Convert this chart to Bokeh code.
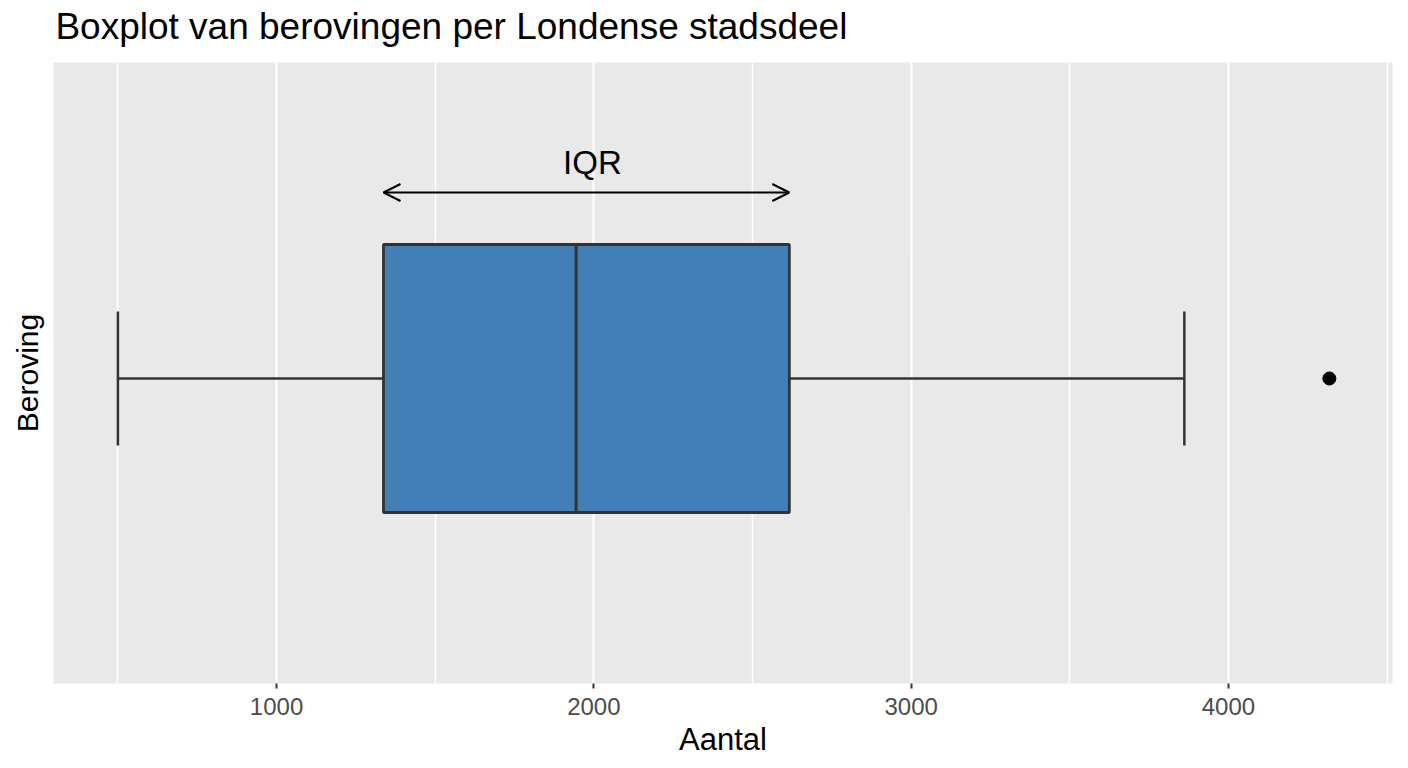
from bokeh.plotting import figure
from bokeh.embed import file_html
from bokeh.resources import INLINE
from bokeh.layouts import column
from bokeh.models import (Range1d, SingleIntervalTicker, FixedTicker, Arrow,
                          OpenHead, Label)

# ---- data ----
category = ["Beroving"]
whisker_low = [500]
q1 = [1337]
median = [1944]
q3 = [2616]
whisker_high = [3861]
outliers = [4318]

title_text = "Boxplot van berovingen per Londense stadsdeel"
x_label = "Aantal"
y_label = category[0]
iqr_label = "IQR"

FONT = "Liberation Sans"
LINE = "#333333"
W = 1400
TITLE_H = 62

# ---- title strip (pixel coordinates, frame aligned with the main chart) ----
t = figure(width=W, height=TITLE_H, output_backend="svg", toolbar_location=None,
           x_range=Range1d(0, W), y_range=Range1d(0, TITLE_H),
           x_axis_type=None, y_axis_type=None, min_border=0)
t.outline_line_color = None
t.background_fill_color = "white"
t.border_fill_color = "white"
t.grid.visible = False
t.add_layout(Label(x=2, y=36, text=title_text, text_align="left",
                   text_baseline="alphabetic", text_font=FONT,
                   text_font_size="37px", text_color="black"))

# ---- main chart ----
p = figure(width=W, height=704, output_backend="svg", toolbar_location=None,
           x_range=Range1d(297, 4517), y_range=Range1d(-1.138, 1.179),
           min_border_left=53, min_border_right=8, min_border_top=0,
           min_border_bottom=83)

p.background_fill_color = "#e9e9e9"
p.border_fill_color = "white"
p.outline_line_color = None

# x axis
p.xaxis.ticker = SingleIntervalTicker(interval=1000, num_minor_ticks=2)
p.xaxis.axis_line_color = None
p.xaxis.major_tick_line_color = LINE
p.xaxis.major_tick_line_width = 2
p.xaxis.major_tick_out = 5
p.xaxis.major_tick_in = 0
p.xaxis.minor_tick_line_color = None
p.xaxis.major_label_text_font = FONT
p.xaxis.major_label_text_font_size = "24px"
p.xaxis.major_label_text_color = "#4d4d4d"
p.xaxis.major_label_standoff = 9
p.xaxis.axis_label = x_label
p.xaxis.axis_label_text_font = FONT
p.xaxis.axis_label_text_font_size = "31px"
p.xaxis.axis_label_text_font_style = "normal"
p.xaxis.axis_label_text_color = "black"
p.xaxis.axis_label_standoff = 4

# y axis: only the label
p.yaxis.ticker = FixedTicker(ticks=[])
p.yaxis.axis_line_color = None
p.yaxis.major_tick_line_color = None
p.yaxis.minor_tick_line_color = None
p.yaxis.axis_label = y_label
p.yaxis.axis_label_text_font = FONT
p.yaxis.axis_label_text_font_size = "30px"
p.yaxis.axis_label_text_font_style = "normal"
p.yaxis.axis_label_text_color = "black"
p.yaxis.axis_label_standoff = 10

# grid
p.xgrid.grid_line_color = "white"
p.xgrid.grid_line_width = 2
p.xgrid.minor_grid_line_color = "white"
p.xgrid.minor_grid_line_width = 1.5
p.ygrid.grid_line_color = None

# whiskers
p.segment(x0=whisker_low, y0=[0], x1=q1, y1=[0], line_color=LINE, line_width=2.5)
p.segment(x0=q3, y0=[0], x1=whisker_high, y1=[0], line_color=LINE, line_width=2.5)
p.segment(x0=whisker_low, y0=[-0.25], x1=whisker_low, y1=[0.25], line_color=LINE, line_width=2.5)
p.segment(x0=whisker_high, y0=[-0.25], x1=whisker_high, y1=[0.25], line_color=LINE, line_width=2.5)

# box
p.quad(left=q1, right=q3, bottom=[-0.5], top=[0.5], fill_color="#417fb6",
       line_color=LINE, line_width=2.8)
p.segment(x0=median, y0=[-0.5], x1=median, y1=[0.5], line_color=LINE, line_width=3)

# outliers
p.scatter(x=outliers, y=[0] * len(outliers), size=13, fill_color="black",
          line_color="black")

# IQR annotation
p.add_layout(Arrow(x_start=q1[0], y_start=0.694, x_end=q3[0], y_end=0.694,
                   line_color="black", line_width=2,
                   start=OpenHead(size=17, line_color="black", line_width=2),
                   end=OpenHead(size=17, line_color="black", line_width=2)))
p.add_layout(Label(x=(q1[0] + q3[0]) / 2, y=0.745, x_offset=6, y_offset=-2,
                   text=iqr_label, text_align="center", text_baseline="bottom",
                   text_font=FONT, text_font_size="33px", text_color="black"))

layout = column(t, p, spacing=0)
open("out.html", "w").write(file_html(layout, INLINE))
